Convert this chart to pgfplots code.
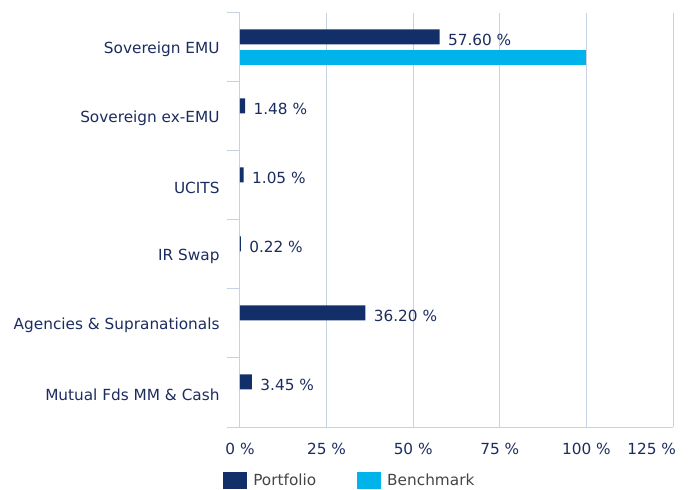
\documentclass[border=0pt]{standalone}
\usepackage{pgfplots}
\pgfplotsset{compat=1.18}
\usepackage{fontspec}
\setmainfont{DejaVu Sans}
\definecolor{navy}{HTML}{132F6A}
\definecolor{cyanb}{HTML}{00B4EB}
\definecolor{gridc}{HTML}{C6D2E4}
\definecolor{txt}{HTML}{1C2C5E}
\definecolor{legtxt}{HTML}{454545}
\begin{document}
\begin{tikzpicture}
\path[use as bounding box] (-240bp,-63bp) rectangle (451bp,427bp);
\begin{axis}[
  at={(0,0)}, anchor=south west,
  scale only axis, width=433bp, height=414bp,
  xbar, bar width=15bp,
  /pgf/number format/assume math mode=true,
  xmin=0, xmax=125, ymin=-0.5, ymax=5.5,
  xtick={0,25,50,75,100,125},
  xticklabels={0~\%,25~\%,50~\%,75~\%,100~\%,\makebox[0pt][r]{125~\%\hspace*{-3bp}}},
  ytick={0,1,2,3,4,5},
  yticklabels={Mutual Fds MM \& Cash, Agencies \& Supranationals, IR Swap, UCITS, Sovereign ex-EMU, Sovereign EMU},
  minor ytick={-0.5,0.5,1.5,2.5,3.5,4.5,5.5},
  major tick length=0pt, minor tick length=13bp, tick align=outside,
  ytick pos=left, xtick pos=bottom,
  minor tick style={draw=gridc, line width=1bp},
  axis x line*=bottom, axis y line*=left,
  axis line style={draw=gridc, line width=1bp},
  xmajorgrids, major grid style={draw=gridc, line width=1bp},
  ticklabel style={font=\fontsize{15.3bp}{17bp}\selectfont, text=txt},
  xticklabel style={yshift=-13bp},
  yticklabel style={xshift=-17bp, yshift=-2bp},
  legend columns=2,
  legend style={at={(rel axis cs:-0.039,-0.108)}, anchor=north west, draw=none, fill=none, inner sep=0pt,
    nodes={inner sep=0pt, text=legtxt, font=\fontsize{15.3bp}{17bp}\selectfont},
    /tikz/every odd column/.append style={column sep=6bp},
    /tikz/every even column/.append style={column sep=41bp}},
  legend image code/.code={\fill[#1] (0bp,-8.5bp) rectangle (24bp,8.5bp);},
]
\addplot[fill=navy, draw=none, bar shift=10.5bp,
  nodes near coords={\pgfmathprintnumber[fixed,precision=2,fixed zerofill]{\pgfplotspointmeta}~\%},
  nodes near coords style={anchor=west, xshift=5bp, yshift=-3bp, text=txt, font=\fontsize{15.3bp}{17bp}\selectfont},
  point meta=x]
  coordinates {(57.60,5) (1.48,4) (1.05,3) (0.22,2) (36.20,1) (3.45,0)};
\addlegendentry{Portfolio}
\addplot[fill=cyanb, draw=none, bar shift=-10.5bp]
  coordinates {(100,5)};
\addlegendentry{Benchmark}
\end{axis}
\end{tikzpicture}
\end{document}
